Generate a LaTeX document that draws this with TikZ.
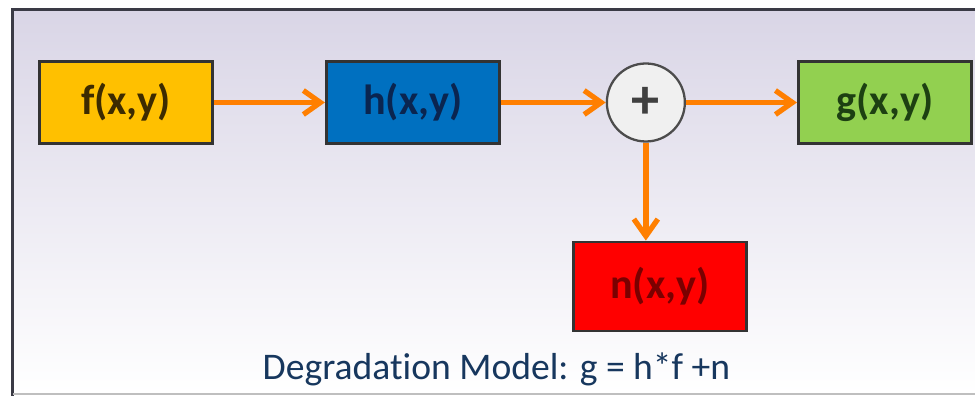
\documentclass[tikz,border=0pt]{standalone}
\usepackage{fontspec}
\setmainfont{Carlito}[Ligatures=NoCommon]
\usepackage{xcolor}
\usepackage{tikz}
\usetikzlibrary{arrows.meta,positioning,calc}

\definecolor{fyellow}{HTML}{FFC000}
\definecolor{hblue}{HTML}{0070C0}
\definecolor{ggreen}{HTML}{92D050}
\definecolor{nred}{HTML}{FF0000}
\definecolor{ftext}{HTML}{3D2B00}
\definecolor{htext}{HTML}{0A2550}
\definecolor{gtext}{HTML}{1D4012}
\definecolor{ntext}{HTML}{7A0000}
\definecolor{arrorange}{HTML}{FF7F00}
\definecolor{captionblue}{HTML}{17375E}
\definecolor{bgtop}{HTML}{D9D5E6}
\definecolor{framegray}{HTML}{3A3A45}

\begin{document}
\begin{tikzpicture}[
  node distance=2.2cm and 2.2cm,
  blk/.style={draw=black!80,line width=1.6pt,align=center,minimum width=3.46cm,minimum height=1.64cm,font=\fontsize{24}{26}\selectfont\bfseries},
  sum/.style={circle,draw=black!70,line width=1.3pt,fill=black!6,minimum size=1.56cm,inner sep=0pt,text=black!75,font=\fontsize{32}{32}\selectfont\bfseries},
  arr/.style={-{Straight Barb[length=3.4mm,width=4.8mm]},line width=3pt,draw=arrorange}
]
\useasboundingbox (0,0) rectangle (19.5,-7.92);
% slide background and frame
\fill[top color=bgtop,bottom color=white] (0.26,-0.19) rectangle (19.5,-7.88);
\draw[line width=0.06cm,framegray] (0.26,-7.92) -- (0.26,-0.19) -- (19.5,-0.19);
\draw[line width=0.04cm,black!25] (0.26,-7.88) -- (19.5,-7.88);

\node[blk,fill=fyellow,text=ftext] (f) at (2.52,-2.05) {f(x,y)};
\node[blk,fill=hblue,text=htext,right=2.22cm of f] (h) {h(x,y)};
\node[sum,right=2.1cm of h] (plus) {+};
\node[blk,fill=ggreen,text=gtext,right=2.22cm of plus] (g) {g(x,y)};
\node[blk,fill=nred,text=ntext,minimum height=1.78cm,below=1.96cm of plus,xshift=0.28cm] (n) {n(x,y)};
\node[anchor=base,text=captionblue,font=\fontsize{21.4}{23}\selectfont] (caption) at (9.93,-7.6) {Degradation Model: g = h*f +n};

\draw[arr] (f.east) -- (h.west);
\draw[arr] (h.east) -- (plus.west);
\draw[arr] (plus.east) -- (g.west);
\draw[arr] (plus.south) -- (plus.south |- n.north);
\end{tikzpicture}
\end{document}
